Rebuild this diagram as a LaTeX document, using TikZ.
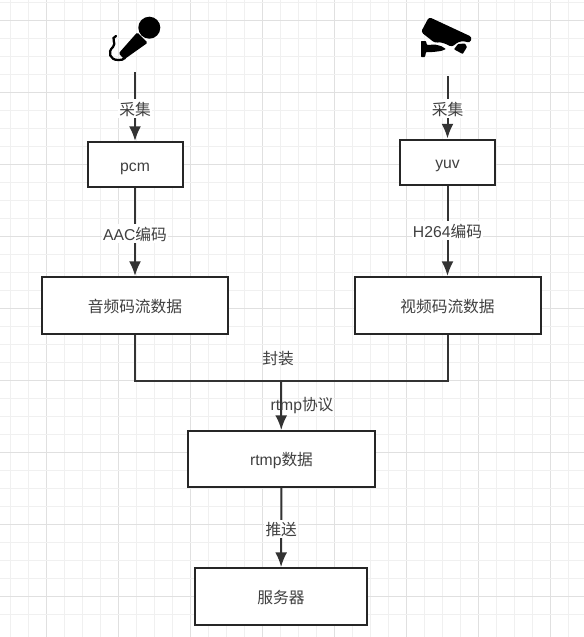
\documentclass[tikz,border=0pt]{standalone}
\usepackage{fontspec}
\usetikzlibrary{arrows.meta}
\setmainfont{Liberation Sans}
\newfontfamily\cjk{Noto Sans CJK SC}
\tikzset{
  box/.style={draw=black!85,line width=1.5pt,fill=white,inner sep=0pt},
  link/.style={draw=black!80,line width=1.5pt},
  arrow/.style={link,-{Latex[length=11pt,width=9pt]}},
  lab/.style={font=\fontsize{11.8}{13}\selectfont,text=black!75,inner xsep=1pt,inner ysep=2pt,text height=10pt,text depth=0pt},
}
\begin{document}
\begin{tikzpicture}[x=0.75pt,y=-0.75pt]
\useasboundingbox (0,0) rectangle (584,637);
\fill[white] (0,0) rectangle (584,637);
% grid
\foreach \i in {0,...,32} {
  \pgfmathtruncatemacro{\vk}{mod(\i,4)==2 ? 12 : 6}
  \draw[black!\vk,line width=0.6pt] ({10+18*\i},0) -- ({10+18*\i},637);
}
\foreach \j in {0,...,34} {
  \pgfmathtruncatemacro{\hk}{mod(\j,4)==1 ? 12 : 6}
  \draw[black!\hk,line width=0.6pt] (0,{2+18*\j}) -- (584,{2+18*\j});
}
% boxes
\node[box,minimum width=71.25pt,minimum height=33.75pt,lab] (pcm) at (135,164.5) {pcm};
\node[box,minimum width=71.25pt,minimum height=33.75pt,lab] (yuv) at (447.5,162) {yuv};
\node[box,minimum width=139.5pt,minimum height=42.75pt,lab] (audio) at (135,305.5) {\cjk 音频码流数据};
\node[box,minimum width=139.5pt,minimum height=42.75pt,lab] (video) at (447.5,305.5) {\cjk 视频码流数据};
\node[box,minimum width=140pt,minimum height=42pt,lab] (rtmp) at (281.5,459) {rtmp\cjk 数据};
\node[box,minimum width=129pt,minimum height=42.75pt,lab] (server) at (281,596.5) {\cjk 服务器};
\coordinate (micend) at (135,72);
\coordinate (camend) at (447.5,76);
\coordinate (join) at (281,381);
% connectors
\draw[arrow] (micend) -- (pcm) node[pos=.53,lab,fill=white] {\cjk 采集};
\draw[arrow] (camend) -- (yuv) node[pos=.52,lab,fill=white] {\cjk 采集};
\draw[arrow] (pcm) -- (audio) node[pos=.52,lab,fill=white] {AAC\cjk 编码};
\draw[arrow] (yuv) -- (video) node[midway,lab,fill=white] {H264\cjk 编码};
\draw[link] (audio.south) |- (join) -| (video.south);
\draw[arrow] (join) -- (rtmp);
\draw[arrow] (rtmp) -- (server) node[pos=.52,lab,fill=white] {\cjk 推送};
\node[lab] (pack) at (278,358) {\cjk 封装};
\node[lab] (proto) at (302,404) {rtmp\cjk 协议};
% microphone
\fill[black] (149.3,27.7) circle (11);
\fill[black,rounded corners=1pt] (137.3,32.3) -- (147.7,42.7) -- (124.3,59.3) -- (118.7,53.3) -- cycle;
\draw[black,line width=1.7pt,line cap=round] (116,36) .. controls (110,38) and (117,43) .. (113,47) .. controls (107,52) and (110,60) .. (118,60) .. controls (121,60) and (123,60) .. (125,58);
% camera
\fill[black,rounded corners=2pt] (429,17) -- (472,37) -- (470,43) -- (464,41) -- (458,42) -- (452,47) -- (446,44) -- (440,42) -- (435,43) -- (421,32) -- cycle;
\fill[black,rounded corners=0.5pt] (458,44) -- (465,43.5) -- (467,47) -- (462.7,54) -- (454,49.3) -- cycle;
\fill[black,rounded corners=0.5pt] (421,41) -- (426,41) -- (427,45) -- (435,44.5) -- (441,46) -- (446,49) -- (441,51) -- (433,52) -- (426,52) -- (425,57) -- (421,57) -- cycle;
\end{tikzpicture}
\end{document}
